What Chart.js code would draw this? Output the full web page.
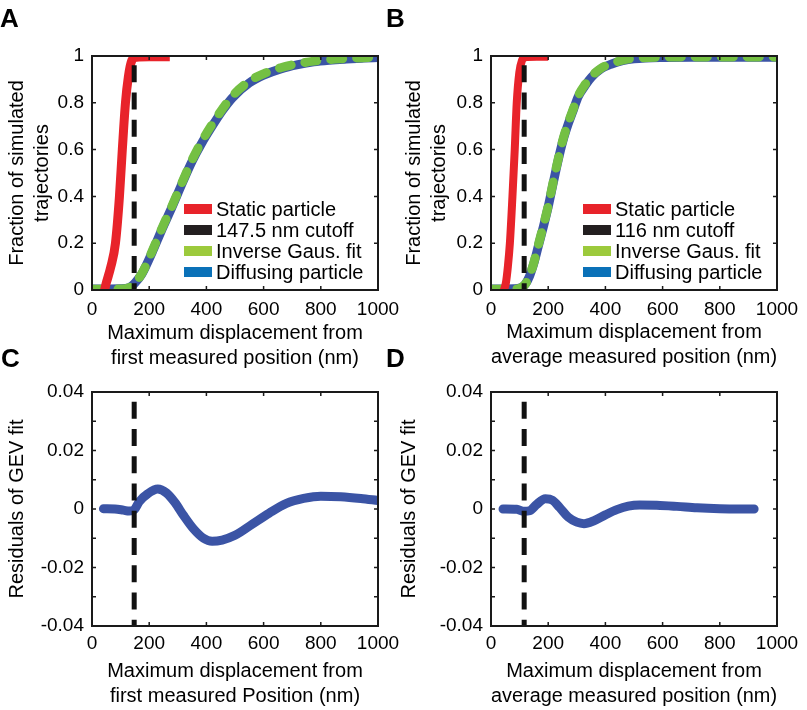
<!DOCTYPE html>
<html lang="en">
<head>
<meta charset="UTF-8">
<title>Maximum displacement distributions</title>
<script src="https://cdn.jsdelivr.net/npm/chart.js@4.4.1/dist/chart.umd.min.js"></script>
<style>
  body { margin: 0; background: #fff; }
  #page { position: relative; width: 807px; height: 710px; overflow: hidden; background: #fff; }
  #page canvas { position: absolute; }
  .tag { position: absolute; font: bold 26px/26px 'Liberation Sans', Arial, sans-serif; color: #000; }
</style>
</head>
<body>
<div id="page">
  <canvas id="panelA" width="400" height="375" style="left:0;top:0"></canvas>
  <canvas id="panelB" width="410" height="375" style="left:397px;top:0"></canvas>
  <canvas id="panelC" width="400" height="370" style="left:0;top:340px"></canvas>
  <canvas id="panelD" width="410" height="370" style="left:397px;top:340px"></canvas>
  <div class="tag" style="left:0;top:5px">A</div>
  <div class="tag" style="left:386px;top:5px">B</div>
  <div class="tag" style="left:1px;top:345px">C</div>
  <div class="tag" style="left:386px;top:345px">D</div>
</div>
<script>
// ---- values ----
const xTickValues = [0, 200, 400, 600, 800, 1000];
const xTickLabels = ['0', '200', '400', '600', '800', '1000'];
const cdfTickValues = [0, 0.2, 0.4, 0.6, 0.8, 1];
const cdfTickLabels = ['0', '0.2', '0.4', '0.6', '0.8', '1'];
const resTickValues = [-0.04, -0.03, -0.02, -0.01, 0, 0.01, 0.02, 0.03, 0.04];
const resTickLabels = ['-0.04', '', '-0.02', '', '0', '', '0.02', '', '0.04'];

// A: first measured position
const aStaticX = [44, 50, 66, 82, 96, 106, 117, 127, 139, 155, 200, 272];
const aStaticY = [0, 0.03, 0.1, 0.2, 0.4, 0.6, 0.8, 0.91, 0.98, 0.995, 0.997, 0.997];
const aDiffX = [0, 100, 130, 150, 175, 210, 245, 280, 315, 350, 385, 420, 455, 490, 550, 600, 660, 720, 775, 830, 890, 950, 1000];
const aDiffY = [0.004, 0.005, 0.01, 0.03, 0.07, 0.16, 0.26, 0.355, 0.455, 0.55, 0.63, 0.70, 0.765, 0.82, 0.885, 0.918, 0.945, 0.963, 0.975, 0.982, 0.987, 0.991, 0.994];
const aFitY = [0.003, 0.004, 0.01, 0.03, 0.072, 0.165, 0.265, 0.36, 0.46, 0.556, 0.638, 0.708, 0.772, 0.828, 0.892, 0.924, 0.95, 0.967, 0.978, 0.985, 0.989, 0.993, 0.996];
const aCutoff = 147.5;

// B: average measured position
const bStaticX = [45, 52, 59, 66, 75, 83, 90, 99, 108, 120, 160, 200];
const bStaticY = [0, 0.03, 0.1, 0.2, 0.4, 0.6, 0.8, 0.93, 0.98, 0.995, 0.997, 0.997];
const bDiffX = [0, 80, 105, 120, 135, 150, 165, 183, 200, 218, 235, 252, 270, 288, 305, 330, 352, 385, 422, 460, 500, 600, 700, 800, 900, 1000];
const bDiffY = [0.004, 0.005, 0.01, 0.025, 0.06, 0.115, 0.185, 0.27, 0.356, 0.46, 0.556, 0.64, 0.71, 0.77, 0.826, 0.875, 0.91, 0.945, 0.966, 0.98, 0.988, 0.994, 0.995, 0.995, 0.995, 0.995];
const bFitY = [0.003, 0.004, 0.01, 0.025, 0.062, 0.118, 0.19, 0.275, 0.36, 0.465, 0.56, 0.645, 0.715, 0.775, 0.83, 0.88, 0.914, 0.948, 0.968, 0.982, 0.99, 0.995, 0.996, 0.996, 0.996, 0.996];
const bCutoff = 116;

// C, D: residuals of the GEV fit
const cResX = [40, 80, 110, 130, 148, 165, 195, 230, 260, 290, 320, 355, 390, 420, 455, 500, 560, 620, 680, 740, 800, 870, 940, 1000];
const cResY = [0.0001, 0, -0.0004, -0.0007, -0.0002, 0.0025, 0.0052, 0.0068, 0.0055, 0.0022, -0.0022, -0.0068, -0.0100, -0.0110, -0.0106, -0.0090, -0.0052, -0.0014, 0.0019, 0.0036, 0.0044, 0.0042, 0.0036, 0.0029];
const dResX = [42, 90, 115, 135, 160, 190, 215, 240, 270, 300, 325, 360, 400, 440, 480, 520, 580, 650, 720, 800, 920];
const dResY = [0, -0.0001, -0.0008, -0.0006, 0.0016, 0.0035, 0.003, 0.0005, -0.0028, -0.0045, -0.005, -0.004, -0.002, -0.0002, 0.001, 0.0014, 0.0013, 0.0009, 0.0004, 0.0001, 0];

// cutoff markers run from these y values down to the bottom of each axis
const cdfCutTop = 0.96;
const resCutTop = 0.0367;

const legendA = ['Static particle', '147.5 nm cutoff', 'Inverse Gaus. fit', 'Diffusing particle'];
const legendB = ['Static particle', '116 nm cutoff', 'Inverse Gaus. fit', 'Diffusing particle'];

// ---- styling ----
const FONT = "'Liberation Sans', Arial, sans-serif";
const RED = '#e8232a', BLACK = '#111111', GREEN = '#74c043', BLUE = '#3b54a5';
const keyColors = [RED, '#231f20', '#9cca3c', '#0a71b8'];

Chart.defaults.font.family = FONT;
Chart.defaults.color = '#000';

function pts(xs, ys) { return xs.map((x, i) => ({ x: x, y: ys[i] })); }

// box around the plot with inward ticks on all four sides
const framePlugin = {
  id: 'frame',
  afterDatasetsDraw(chart) {
    const { ctx, chartArea: a, scales: { x, y } } = chart;
    ctx.save();
    ctx.strokeStyle = '#1a1a1a';
    ctx.lineWidth = 1.5;
    ctx.beginPath();
    x.ticks.forEach(t => {
      const px = x.getPixelForValue(t.value);
      ctx.moveTo(px, a.bottom); ctx.lineTo(px, a.bottom - 4);
      ctx.moveTo(px, a.top); ctx.lineTo(px, a.top + 4);
    });
    y.ticks.forEach(t => {
      const py = y.getPixelForValue(t.value);
      ctx.moveTo(a.left, py); ctx.lineTo(a.left + 4, py);
      ctx.moveTo(a.right, py); ctx.lineTo(a.right - 4, py);
    });
    ctx.stroke();
    ctx.lineWidth = 2;
    ctx.strokeRect(a.left, a.top, a.right - a.left, a.bottom - a.top);
    ctx.restore();
  }
};

// legend inside the lower right of the plot
const keyPlugin = {
  id: 'key',
  afterDraw(chart, args, opts) {
    if (!opts.labels) return;
    const { ctx, chartArea: a } = chart;
    ctx.save();
    ctx.font = '20px ' + FONT;
    ctx.textBaseline = 'middle';
    opts.labels.forEach((lab, i) => {
      const x0 = a.right - 194;
      const y0 = a.bottom - 81 + i * 21;
      ctx.fillStyle = keyColors[i];
      ctx.fillRect(x0, y0 - 5, 28, 10);
      ctx.fillStyle = '#000';
      ctx.fillText(lab, x0 + 32, y0 + 1);
    });
    ctx.restore();
  }
};

function line(data, color, width, extra) {
  return Object.assign({
    data: data, borderColor: color, backgroundColor: color, borderWidth: width,
    pointRadius: 0, fill: false, clip: 0, tension: 0.4,
    cubicInterpolationMode: 'monotone', borderJoinStyle: 'round'
  }, extra || {});
}

function cutoffLine(x, top, bottom) {
  return line([{ x: x, y: top }, { x: x, y: bottom }], BLACK, 5,
    { borderDash: [17, 10.25], tension: 0, cubicInterpolationMode: 'default' });
}

function makePanel(id, p) {
  new Chart(document.getElementById(id), {
    type: 'line',
    data: { datasets: p.datasets },
    options: {
      responsive: false,
      animation: false,
      events: [],
      layout: { padding: { left: 0, top: p.top, right: p.right, bottom: 0 } },
      plugins: { legend: { display: false }, tooltip: { enabled: false }, key: { labels: p.legend } },
      scales: {
        x: {
          type: 'linear', min: 0, max: 1000,
          afterBuildTicks: s => { s.ticks = xTickValues.map(v => ({ value: v })); },
          afterFit: s => { s.height = p.xh; s.paddingLeft = 0; s.paddingRight = 0; },
          grid: { display: false, drawTicks: false },
          border: { display: false },
          ticks: { autoSkip: false, maxRotation: 0, padding: p.xpad, font: { size: 19 },
                   callback: (v, i) => xTickLabels[i] },
          title: { display: true, text: p.xTitle, font: { size: 20, lineHeight: 1.25 },
                   padding: { top: 0, bottom: p.xtp } }
        },
        y: {
          type: 'linear', min: p.yMin, max: p.yMax,
          afterBuildTicks: s => { s.ticks = p.yTicks.map(v => ({ value: v })); },
          afterFit: s => { s.width = p.yw; s.paddingTop = 0; s.paddingBottom = 0; },
          grid: { display: false, drawTicks: false },
          border: { display: false },
          ticks: { autoSkip: false, padding: 8, font: { size: 19 },
                   callback: (v, i) => p.yLabels[i] },
          title: { display: true, text: p.yTitle, font: { size: 20, lineHeight: 1.25 },
                   padding: { top: p.ytp, bottom: 0 } }
        }
      }
    },
    plugins: [framePlugin, keyPlugin]
  });
}

makePanel('panelA', {
  top: 56, right: 22, xh: 85, yw: 92, xpad: 8, xtp: 4.5, ytp: 4.5,
  yMin: 0, yMax: 1, yTicks: cdfTickValues, yLabels: cdfTickLabels,
  xTitle: ['Maximum displacement from', 'first measured position (nm)'],
  yTitle: ['Fraction of simulated', 'trajectories'],
  legend: legendA,
  datasets: [
    cutoffLine(aCutoff, cdfCutTop, 0),
    line(pts(aStaticX, aStaticY), RED, 9),
    line(pts(aDiffX, aFitY), GREEN, 9, { borderDash: [12, 14], borderCapStyle: 'round' }),
    line(pts(aDiffX, aDiffY), BLUE, 9)
  ]
});

makePanel('panelB', {
  top: 56, right: 30, xh: 85, yw: 94, xpad: 8, xtp: 5, ytp: 4.5,
  yMin: 0, yMax: 1, yTicks: cdfTickValues, yLabels: cdfTickLabels,
  xTitle: ['Maximum displacement from', 'average measured position (nm)'],
  yTitle: ['Fraction of simulated', 'trajectories'],
  legend: legendB,
  datasets: [
    cutoffLine(bCutoff, cdfCutTop, 0),
    line(pts(bStaticX, bStaticY), RED, 8),
    line(pts(bDiffX, bFitY), GREEN, 9, { borderDash: [12, 14], borderCapStyle: 'round' }),
    line(pts(bDiffX, bDiffY), BLUE, 9)
  ]
});

makePanel('panelC', {
  top: 52, right: 22, xh: 84, yw: 92, xpad: 6, xtp: 1.5, ytp: 4.5,
  yMin: -0.04, yMax: 0.04, yTicks: resTickValues, yLabels: resTickLabels,
  xTitle: ['Maximum displacement from', 'first measured Position (nm)'],
  yTitle: 'Residuals of GEV fit',
  datasets: [
    cutoffLine(aCutoff, resCutTop, -0.04),
    line(pts(cResX, cResY), BLUE, 9, { borderCapStyle: 'round' })
  ]
});

makePanel('panelD', {
  top: 52, right: 30, xh: 84, yw: 94, xpad: 6, xtp: 1.5, ytp: 0,
  yMin: -0.04, yMax: 0.04, yTicks: resTickValues, yLabels: resTickLabels,
  xTitle: ['Maximum displacement from', 'average measured position (nm)'],
  yTitle: 'Residuals of GEV fit',
  datasets: [
    cutoffLine(bCutoff, resCutTop, -0.04),
    line(pts(dResX, dResY), BLUE, 9, { borderCapStyle: 'round' })
  ]
});
</script>
</body>
</html>
